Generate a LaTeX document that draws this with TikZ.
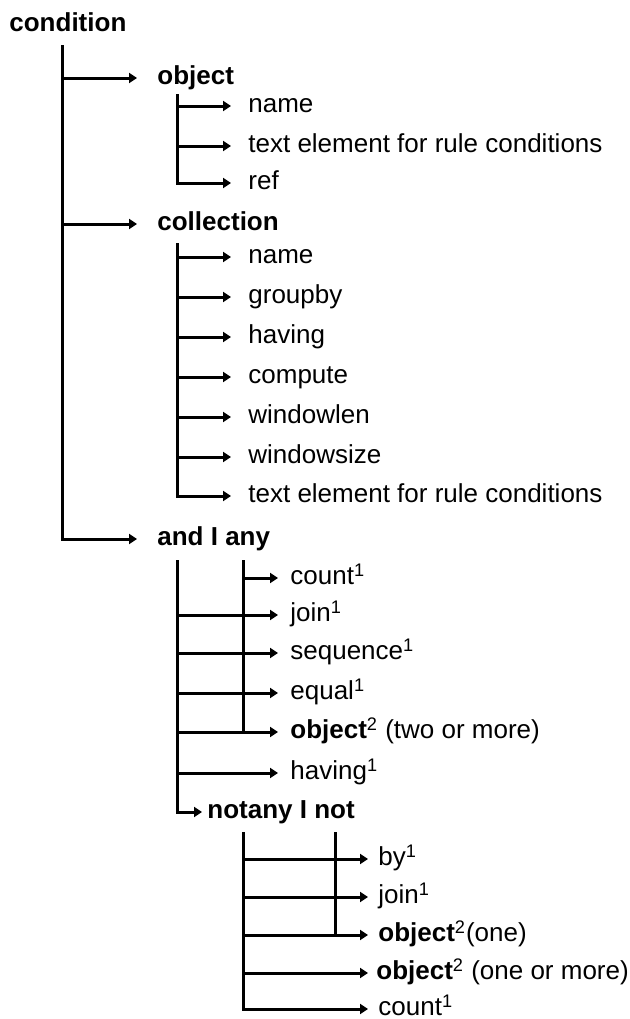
\documentclass[tikz,border=0pt]{standalone}
\usepackage{fontspec}
\setmainfont{Liberation Sans}
\usetikzlibrary{arrows.meta}

\tikzset{
  br/.style={line width=1.5pt,-{Triangle[length=4pt,width=5pt]}},
  ln/.style={line width=1.5pt},
  lbl/.style={anchor=west,inner ysep=0pt,text height=7pt,text depth=0.2pt,font=\fontsize{13}{15}\selectfont},
  hd/.style={lbl,font=\fontsize{13}{15}\selectfont\bfseries},
}

\begin{document}
\begin{tikzpicture}[x=0.5pt,y=-0.5pt]
    \useasboundingbox (0,0) rectangle (630,1019);
    \node[hd,inner xsep=0pt] (cond) at (9,25) {condition};
    \coordinate (t0) at (62,45);
    \node[hd,inner xsep=10pt] (obj) at (137,78) {object};
    \node[hd,inner xsep=10pt] (coll) at (137,224) {collection};
    \node[hd,inner xsep=10pt] (andany) at (137,539) {and I any};
    \draw[br] (t0 |- obj.west) to (obj.west);
    \draw[br] (t0 |- coll.west) to (coll.west);
    \draw[br] (t0) |- (andany.west);

    \coordinate (t1) at (177,94);
    \node[lbl,inner xsep=8.5pt] (oname) at (231,106) {name};
    \node[lbl,inner xsep=8.5pt] (otext) at (231,146) {text element for rule conditions};
    \node[lbl,inner xsep=8.5pt] (oref) at (231,183) {ref};
    \draw[br] (t1 |- oname.west) to (oname.west);
    \draw[br] (t1 |- otext.west) to (otext.west);
    \draw[br] (t1) |- (oref.west);

    \coordinate (t2) at (177,243);
    \node[lbl,inner xsep=8.5pt] (cname) at (231,257) {name};
    \node[lbl,inner xsep=8.5pt] (cgroup) at (231,297) {groupby};
    \node[lbl,inner xsep=8.5pt] (chaving) at (231,337) {having};
    \node[lbl,inner xsep=8.5pt] (ccompute) at (231,377) {compute};
    \node[lbl,inner xsep=8.5pt] (cwinlen) at (231,417) {windowlen};
    \node[lbl,inner xsep=8.5pt] (cwinsize) at (231,457) {windowsize};
    \node[lbl,inner xsep=8.5pt] (ctext) at (231,496) {text element for rule conditions};
    \draw[br] (t2 |- cname.west) to (cname.west);
    \draw[br] (t2 |- cgroup.west) to (cgroup.west);
    \draw[br] (t2 |- chaving.west) to (chaving.west);
    \draw[br] (t2 |- ccompute.west) to (ccompute.west);
    \draw[br] (t2 |- cwinlen.west) to (cwinlen.west);
    \draw[br] (t2 |- cwinsize.west) to (cwinsize.west);
    \draw[br] (t2) |- (ctext.west);

    \coordinate (t3) at (177,560);
    \coordinate (t4) at (243,560);
    \node[lbl,inner xsep=6pt] (acount) at (278,578) {count\textsuperscript{1}};
    \node[lbl,inner xsep=6pt] (ajoin) at (278,615) {join\textsuperscript{1}};
    \node[lbl,inner xsep=6pt] (aseq) at (278,653) {sequence\textsuperscript{1}};
    \node[lbl,inner xsep=6pt] (aequal) at (278,693) {equal\textsuperscript{1}};
    \node[lbl,inner xsep=6pt] (aobj) at (278,732) {\textbf{object}\textsuperscript{2} (two or more)};
    \node[lbl,inner xsep=6pt] (ahaving) at (278,773) {having\textsuperscript{1}};
    \node[hd,inner xsep=2.5pt] (notany) at (202,812) {notany I not};
    \draw[br] (t4) |- (acount.west);
    \draw[ln] (t4) to (t4 |- aobj.west);
    \draw[br] (t3 |- ajoin.west) to (ajoin.west);
    \draw[br] (t3 |- aseq.west) to (aseq.west);
    \draw[br] (t3 |- aequal.west) to (aequal.west);
    \draw[br] (t3 |- aobj.west) to (aobj.west);
    \draw[br] (t3 |- ahaving.west) to (ahaving.west);
    \draw[br] (t3) |- (notany.west);

    \coordinate (t5) at (243,832);
    \coordinate (t6) at (335,832);
    \node[lbl,inner xsep=5pt] (nby) at (368,859) {by\textsuperscript{1}};
    \node[lbl,inner xsep=5pt] (njoin) at (368,897) {join\textsuperscript{1}};
    \node[lbl,inner xsep=5pt] (nobj) at (368,935) {\textbf{object}\textsuperscript{2}(one)};
    \node[lbl,inner xsep=4pt] (nobjs) at (368,973) {\textbf{object}\textsuperscript{2} (one or more)};
    \node[lbl,inner xsep=5pt] (ncount) at (368,1009) {count\textsuperscript{1}};
    \draw[ln] (t6) to (t6 |- nobj.west);
    \draw[br] (t5 |- nby.west) to (nby.west);
    \draw[br] (t5 |- njoin.west) to (njoin.west);
    \draw[br] (t5 |- nobj.west) to (nobj.west);
    \draw[br] (t5 |- nobjs.west) to (nobjs.west);
    \draw[br] (t5) |- (ncount.west);
\end{tikzpicture}
\end{document}
